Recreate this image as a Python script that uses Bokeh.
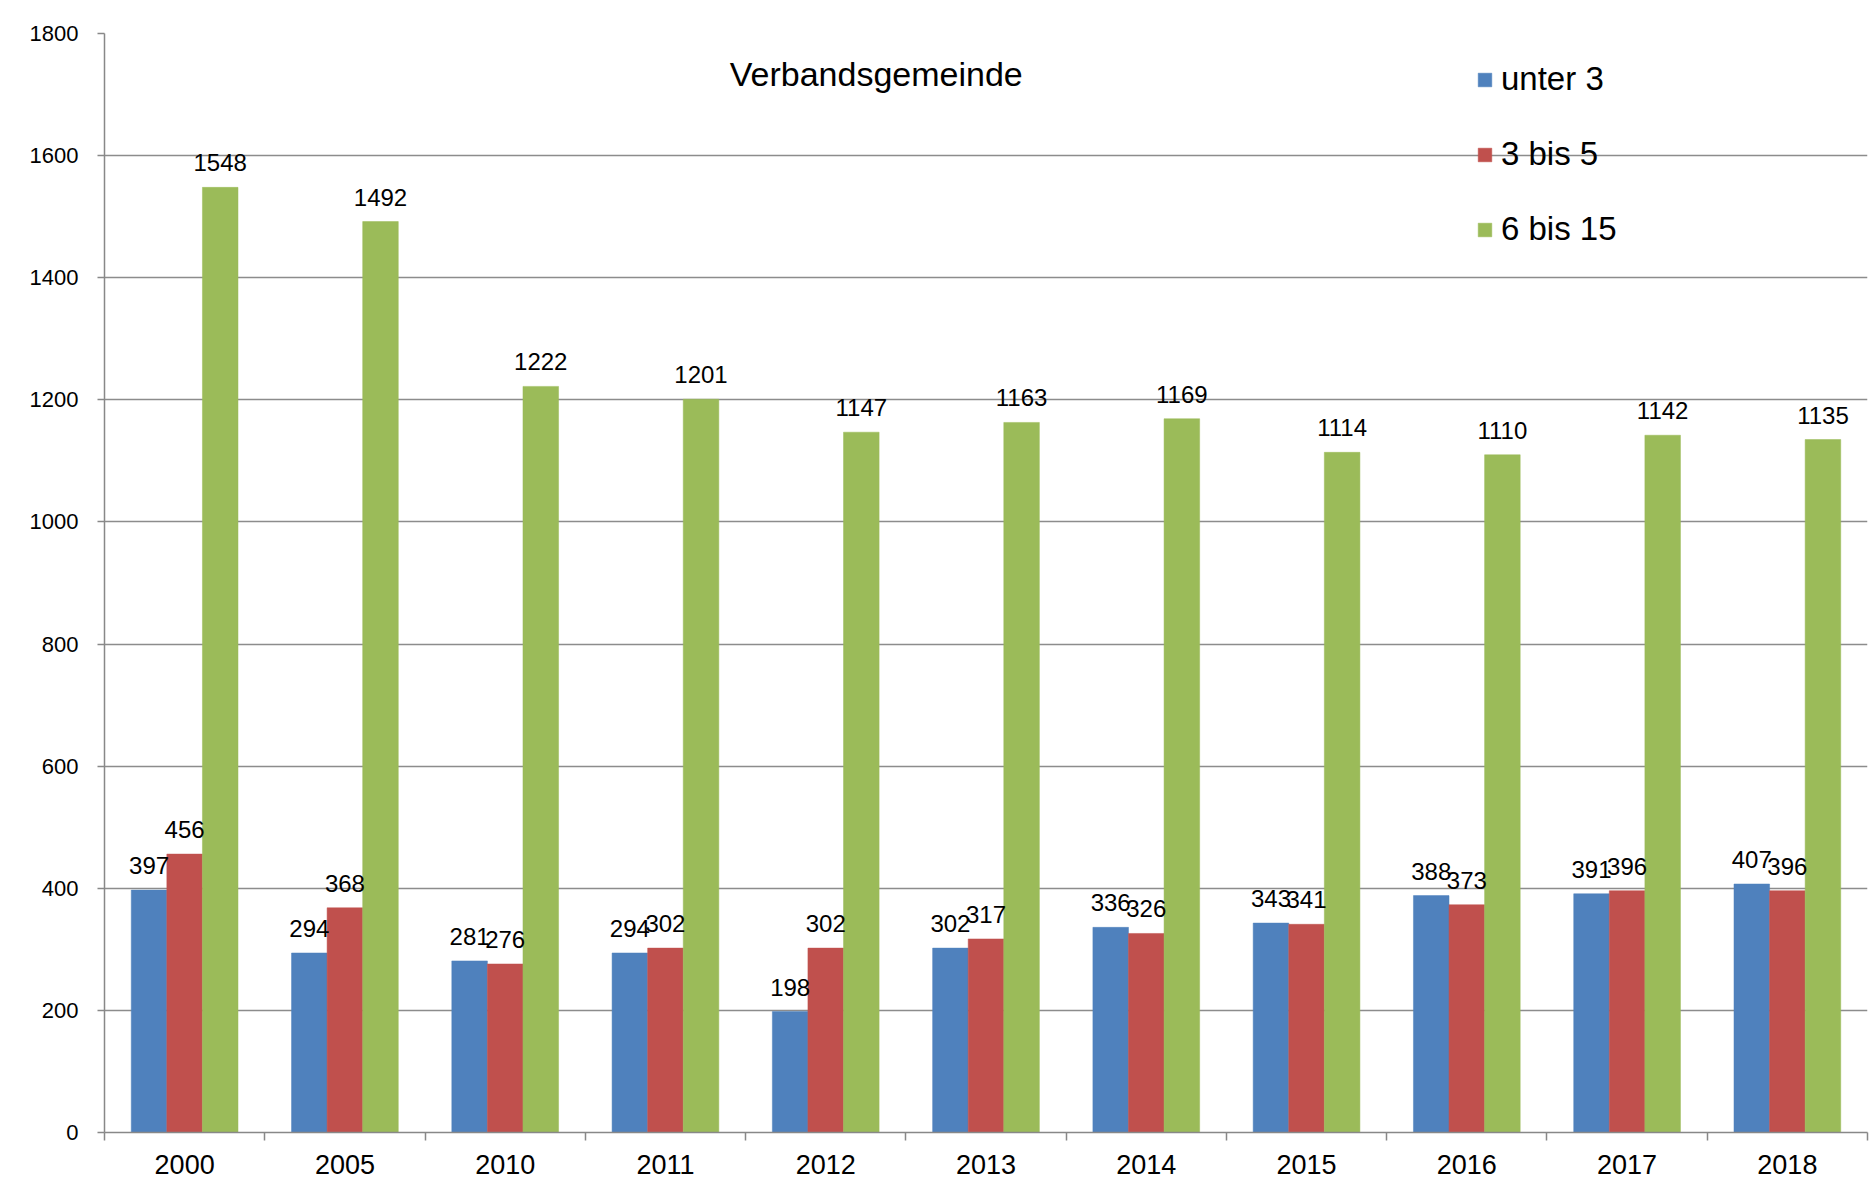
from bokeh.plotting import figure
from bokeh.models import (ColumnDataSource, Range1d, FixedTicker, LabelSet, Label,
                          Legend, LegendItem)
from bokeh.core.properties import value
from bokeh.transform import dodge
from bokeh.embed import file_html
from bokeh.resources import INLINE

years = ["2000", "2005", "2010", "2011", "2012", "2013", "2014", "2015", "2016", "2017", "2018"]
unter_3 = [397, 294, 281, 294, 198, 302, 336, 343, 388, 391, 407]
bis_3_5 = [456, 368, 276, 302, 302, 317, 326, 341, 373, 396, 396]
bis_6_15 = [1548, 1492, 1222, 1201, 1147, 1163, 1169, 1114, 1110, 1142, 1135]
series_names = ["unter 3", "3 bis 5", "6 bis 15"]
colors = ["#4F81BD", "#C0504D", "#9BBB59"]
y_ticks = [0, 200, 400, 600, 800, 1000, 1200, 1400, 1600, 1800]
chart_title = "Verbandsgemeinde"

FONT = "Liberation Sans"

centers = [i + 0.5 for i in range(len(years))]
source = ColumnDataSource(dict(x=centers, years=years, a=unter_3, b=bis_3_5, c=bis_6_15,
                               la=[str(v) for v in unter_3],
                               lb=[str(v) for v in bis_3_5],
                               lc=[str(v) for v in bis_6_15]))

p = figure(frame_width=1763, frame_height=1099, output_backend="svg", toolbar_location=None,
           x_range=Range1d(0, len(years)), y_range=Range1d(0, 1800),
           min_border_left=104, min_border_right=2, min_border_top=33, min_border_bottom=53)
p.outline_line_color = None
p.background_fill_color = "white"
p.border_fill_color = "white"

bw = 0.222
offsets = [-bw, 0.0, bw]
fields = ["a", "b", "c"]
lfields = ["la", "lb", "lc"]
renderers = []
for f, lf, off, col in zip(fields, lfields, offsets, colors):
    r = p.vbar(x=dodge("x", off, range=p.x_range), top=f, width=bw, bottom=0,
               source=source, fill_color=col, line_color=col, line_width=0.5)
    renderers.append(r)
    labels = LabelSet(x=dodge("x", off, range=p.x_range), y=f, text=lf, source=source,
                      text_align="center", text_baseline="alphabetic", y_offset=16,
                      text_font=value(FONT), text_font_size=value("24px"), text_color="black")
    p.add_layout(labels)

# axes
p.xaxis.ticker = FixedTicker(ticks=centers, minor_ticks=list(range(len(years) + 1)))
p.xaxis.major_label_overrides = {c: y for c, y in zip(centers, years)}
p.xaxis.major_tick_out = 0
p.xaxis.major_tick_in = 0
p.xaxis.minor_tick_out = 8
p.xaxis.minor_tick_in = 0
p.xaxis.minor_tick_line_color = "#888888"
p.xaxis.axis_line_color = "#888888"
p.xaxis.axis_line_width = 1.5
p.xaxis.minor_tick_line_width = 1.5
p.xaxis.major_label_text_font = FONT
p.xaxis.major_label_text_font_size = "27px"
p.xaxis.major_label_text_color = "black"
p.xaxis.major_label_standoff = 14

p.yaxis.ticker = FixedTicker(ticks=y_ticks, minor_ticks=[])
p.yaxis.major_tick_out = 7
p.yaxis.major_tick_in = 0
p.yaxis.major_tick_line_color = "#888888"
p.yaxis.major_tick_line_width = 1.5
p.yaxis.axis_line_color = "#888888"
p.yaxis.axis_line_width = 1.5
p.yaxis.major_label_text_font = FONT
p.yaxis.major_label_text_font_size = "22px"
p.yaxis.major_label_text_color = "black"
p.yaxis.major_label_standoff = 19

p.xgrid.grid_line_color = None
p.ygrid.grid_line_color = "#8c8c8c"
p.ygrid.grid_line_width = 1.5

# title inside the plot
t = Label(x=4.815, y=1733, text=chart_title, text_align="center", text_baseline="alphabetic",
          text_font=FONT, text_font_size="34px", text_color="black")
p.add_layout(t)

legend = Legend(items=[LegendItem(label=n, renderers=[r]) for n, r in zip(series_names, renderers)],
                location=(1372, 884), orientation="vertical",
                glyph_width=17, glyph_height=17, label_height=30, spacing=37,
                label_standoff=8, padding=0, margin=0,
                label_text_font=FONT, label_text_font_size="33px", label_text_color="black",
                border_line_color=None, background_fill_alpha=0)
p.add_layout(legend, "center")

open("out.html", "w").write(file_html(p, INLINE))
